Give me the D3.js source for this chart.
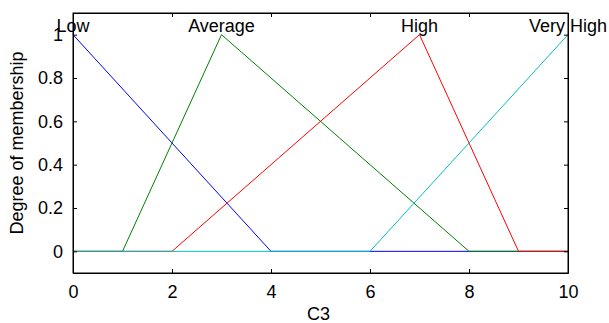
<!DOCTYPE html>
<html>
<head>
<meta charset="utf-8">
<script src="https://cdn.jsdelivr.net/npm/d3@7"></script>
<style>
  body { margin: 0; background: #fff; }
  text { font-family: "Liberation Sans", Arial, sans-serif; fill: #000; }
</style>
</head>
<body>
<div class="container"></div>
<script>
const WIDTH = 609;
const HEIGHT = 323;
const MARGIN = { top: 13, right: 41, bottom: 50, left: 73 };
const INNER_WIDTH = WIDTH - MARGIN.left - MARGIN.right;
const INNER_HEIGHT = HEIGHT - MARGIN.top - MARGIN.bottom;
const FONT = '18px';

// membership function names and their peak positions (label anchor)
var mfNames = ['Low', 'Average', 'High', 'Very High'];
var mfPeaks = [0, 3, 7, 10];
var mfColors = ['#0000ff', '#008000', '#ff0000', '#00bfbf'];

// breakpoints of each triangle, [x, degree]
var lowPts = [[0, 1], [4, 0], [10, 0]];
var averagePts = [[0, 0], [1, 0], [3, 1], [8, 0], [10, 0]];
var highPts = [[0, 0], [2, 0], [7, 1], [9, 0], [10, 0]];
var veryHighPts = [[0, 0], [6, 0], [10, 1]];

var xTicks = [0, 2, 4, 6, 8, 10];
var yTicks = [0, 0.2, 0.4, 0.6, 0.8, 1];

var translate = function(x, y){
  return "translate(" + x + "," + y + ")";
};

var svg = d3.select('.container').append('svg')
  .attr('width', WIDTH)
  .attr('height', HEIGHT);

var xScale = d3.scaleLinear().domain([0, 10]).range([0, INNER_WIDTH]);
var yScale = d3.scaleLinear().domain([-0.1, 1.1]).range([INNER_HEIGHT, 0]);

var g = svg.append('g').attr('transform', translate(MARGIN.left, MARGIN.top));

var line = d3.line()
  .x(function(d){ return xScale(d[0]); })
  .y(function(d){ return yScale(d[1]); });

[lowPts, averagePts, highPts, veryHighPts].forEach(function(pts, i){
  g.append('path')
    .attr('d', line(pts))
    .attr('fill', 'none')
    .attr('stroke', mfColors[i])
    .attr('stroke-width', 1);
});

// names above each peak
mfNames.forEach(function(name, i){
  g.append('text')
    .attr('x', xScale(mfPeaks[i]))
    .attr('y', yScale(1) - 3)
    .attr('text-anchor', 'middle')
    .style('font-size', FONT)
    .text(name);
});

// axes: bottom/left with labels, top/right ticks only, all inward
var fmt = function(d){ return d === 0 || d === 1 ? String(d) : d3.format('.1f')(d); };

var xAxis = d3.axisBottom(xScale).tickValues(xTicks).tickSizeInner(-4).tickSizeOuter(0).tickPadding(12);
var yAxis = d3.axisLeft(yScale).tickValues(yTicks).tickFormat(fmt).tickSizeInner(-4).tickSizeOuter(0).tickPadding(10);

var gx = g.append('g').attr('transform', translate(0, INNER_HEIGHT)).call(xAxis);
var gy = g.append('g').call(yAxis);
var gxt = g.append('g').call(d3.axisTop(xScale).tickValues(xTicks).tickSizeInner(-4).tickSizeOuter(0).tickFormat(''));
var gyr = g.append('g').attr('transform', translate(INNER_WIDTH, 0))
  .call(d3.axisRight(yScale).tickValues(yTicks).tickSizeInner(-4).tickSizeOuter(0).tickFormat(''));

[gx, gy, gxt, gyr].forEach(function(a){
  a.selectAll('text').style('font-size', FONT).style('font-family', '"Liberation Sans", Arial, sans-serif').attr('fill', '#000');
  a.selectAll('line').attr('stroke', '#000');
  a.select('.domain').attr('stroke', '#000');
});

g.append('rect')
  .attr('width', INNER_WIDTH)
  .attr('height', INNER_HEIGHT)
  .attr('fill', 'none')
  .attr('stroke', '#000');

svg.append('text')
  .attr('x', MARGIN.left + INNER_WIDTH / 2 - 2)
  .attr('y', 320)
  .attr('text-anchor', 'middle')
  .style('font-size', FONT)
  .text('C3');

svg.append('text')
  .attr('transform', translate(23, MARGIN.top + INNER_HEIGHT / 2) + ' rotate(-90)')
  .attr('text-anchor', 'middle')
  .style('font-size', FONT)
  .text('Degree of membership');
</script>
</body>
</html>
